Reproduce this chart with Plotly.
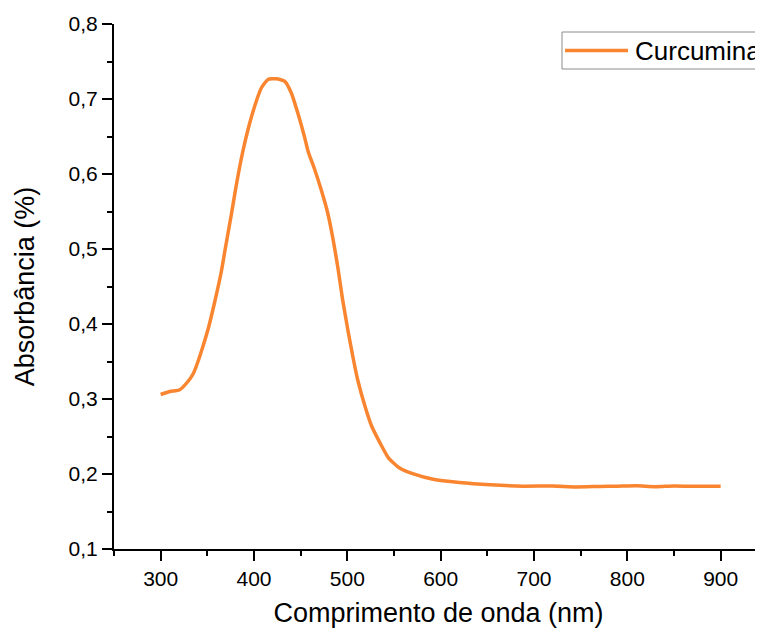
import plotly.graph_objects as go

wavelength = [300, 310, 320, 329, 335, 340, 345, 351, 358, 365, 370, 376, 381, 388, 395,
              403, 408, 415, 424, 433, 440, 447, 454, 458, 465, 472, 479, 485, 490, 495,
              501, 506, 511, 519, 526, 535, 544, 556, 570, 592, 620, 653, 688, 720, 745,
              770, 790, 810, 830, 850, 870, 885, 900]
absorbance = [0.306, 0.310, 0.312, 0.323, 0.334, 0.350, 0.369, 0.394, 0.430, 0.470, 0.506,
              0.548, 0.585, 0.630, 0.666, 0.699, 0.715, 0.726, 0.727, 0.7235, 0.708, 0.681,
              0.650, 0.630, 0.606, 0.579, 0.548, 0.511, 0.474, 0.432, 0.389, 0.356, 0.326,
              0.290, 0.264, 0.2415, 0.2215, 0.208, 0.2005, 0.193, 0.1888, 0.1857, 0.1838,
              0.1840, 0.1828, 0.1834, 0.1838, 0.1842, 0.1830, 0.1840, 0.1835, 0.1838, 0.1835]
series_name = "Curcumina"
x_title = "Comprimento de onda (nm)"
y_title = "Absorbância (%)"

W, H = 763, 629
OFF = 8  # page body margin
L, R, T, B = 114 - OFF, OFF, 24 - OFF, 80 + OFF
pw, ph = W - L - R, H - T - B
color = "#F98530"
font = "Liberation Sans, Arial, sans-serif"

fig = go.Figure()
fig.add_trace(go.Scatter(x=wavelength, y=absorbance, mode="lines", name=series_name,
                         line=dict(color=color, width=3.5, shape="spline", smoothing=0.5),
                         showlegend=False))

# convert window pixel positions to paper fractions
def px(x):
    return (x - OFF - L) / pw

def py(y):
    return (H - B - (y - OFF)) / ph

# manual legend box
fig.add_shape(type="rect", xref="paper", yref="paper", x0=px(562), x1=px(790),
              y0=py(69), y1=py(32), line=dict(color="#8c8c8c", width=1), fillcolor="white")
fig.add_shape(type="line", xref="paper", yref="paper", x0=px(565), x1=px(628),
              y0=py(50.5), y1=py(50.5), line=dict(color=color, width=3.5))
fig.add_annotation(xref="paper", yref="paper", x=px(633), y=py(51), text=series_name,
                   showarrow=False, xanchor="left", yanchor="middle",
                   font=dict(family=font, size=26, color="black"))

axis_common = dict(showline=True, linecolor="black", linewidth=2, ticks="outside",
                   ticklen=10, tickwidth=2, tickcolor="black", showgrid=False,
                   zeroline=False, mirror=False,
                   tickfont=dict(family=font, size=21, color="black"))

fig.update_xaxes(range=[250, 250 + pw / 0.93333], dtick=100, tick0=0,
                 minor=dict(ticks="outside", ticklen=5, dtick=50, tickwidth=2, tickcolor="black"),
                 title=dict(text=x_title, font=dict(family=font, size=27, color="black"), standoff=14),
                 **axis_common)
fig.update_yaxes(range=[0.1, 0.8], dtick=0.1, tick0=0, tickformat=".1f",
                 minor=dict(ticks="outside", ticklen=5, dtick=0.05, tickwidth=2, tickcolor="black"),
                 title=dict(text=y_title, font=dict(family=font, size=27, color="black"), standoff=26),
                 **axis_common)

fig.update_layout(width=W, height=H, margin=dict(l=L, r=R, t=T, b=B, autoexpand=False),
                  paper_bgcolor="white", plot_bgcolor="white", separators=",.",
                  font=dict(family=font, color="black"))
fig.write_html("out.html")
